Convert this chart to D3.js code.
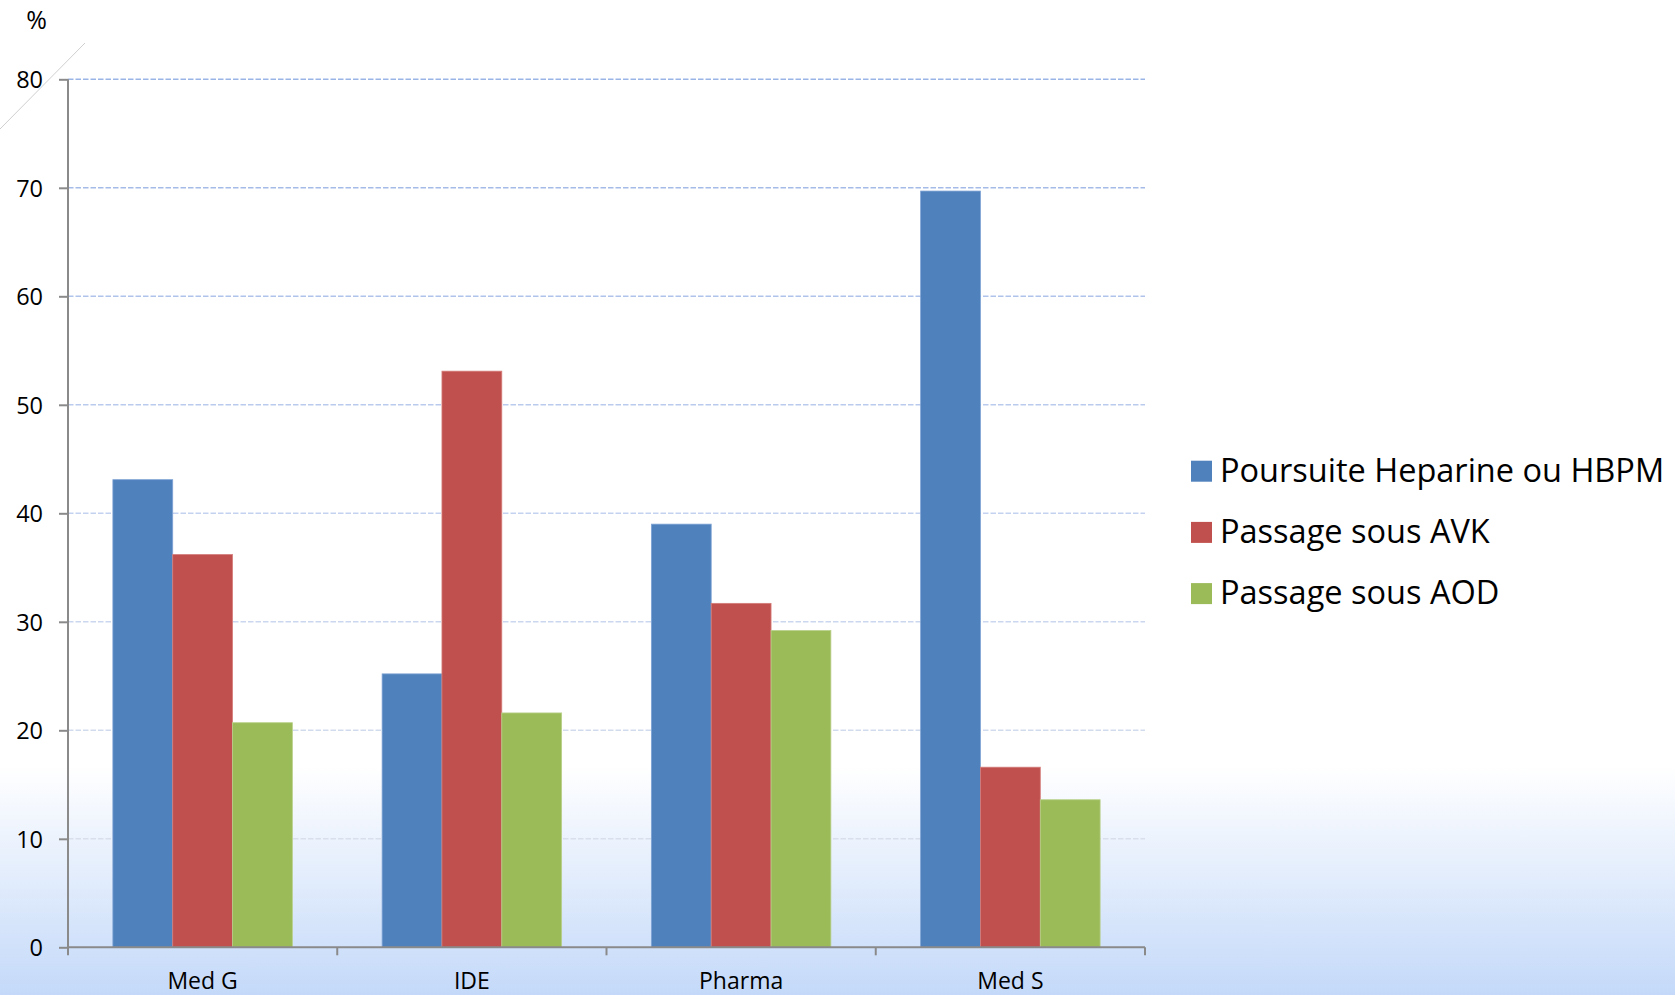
<!DOCTYPE html>
<html>
<head>
<meta charset="utf-8">
<script src="https://cdn.jsdelivr.net/npm/d3@7"></script>
<style>
  html, body { margin: 0; padding: 0; background: #fff; }
  svg { display: block; font-family: "Open Sans", "Noto Sans", sans-serif; }
</style>
</head>
<body>
<svg id="chart" width="1675" height="995"></svg>
<script>
// Categories and series
const categories = ["Med G", "IDE", "Pharma", "Med S"];
const seriesNames = ["Poursuite Heparine ou HBPM", "Passage sous AVK", "Passage sous AOD"];
const heparine = [43.1, 25.2, 39.0, 69.7];
const avk = [36.2, 53.1, 31.7, 16.6];
const aod = [20.7, 21.6, 29.2, 13.6];
const yTicks = [0, 10, 20, 30, 40, 50, 60, 70, 80];
const colors = ["#4f81bd", "#c0504d", "#9bbb59"];
const strokeColors = ["#7ea3d4", "#d47d7a", "#b9d08a"];

const seriesValues = [heparine, avk, aod];
const rows = categories.map((c, i) => ({
  cat: c,
  vals: seriesNames.map((s, j) => ({ key: s, idx: j, value: seriesValues[j][i] }))
}));

const W = 1675, H = 995;
const plotLeft = 68, plotRight = 1145, plotTop = 79.3, plotBottom = 947.3;

const svg = d3.select("#chart");
const defs = svg.append("defs");

// page background: white fading into light blue near the bottom
const bg = defs.append("linearGradient").attr("id", "bg")
  .attr("x1", 0).attr("y1", 0).attr("x2", 0).attr("y2", 1);
bg.append("stop").attr("offset", "0%").attr("stop-color", "#ffffff");
bg.append("stop").attr("offset", "77%").attr("stop-color", "#ffffff");
bg.append("stop").attr("offset", "100%").attr("stop-color", "#c4d9f9");
svg.append("rect").attr("width", W).attr("height", H).attr("fill", "url(#bg)");

// gridline colour fades from blue at the top to grey at the bottom
const gg = defs.append("linearGradient").attr("id", "gridGrad")
  .attr("gradientUnits", "userSpaceOnUse")
  .attr("x1", 0).attr("y1", plotTop).attr("x2", 0).attr("y2", plotBottom);
gg.append("stop").attr("offset", "0%").attr("stop-color", "#9ab4e6");
gg.append("stop").attr("offset", "50%").attr("stop-color", "#c4d2f0");
gg.append("stop").attr("offset", "100%").attr("stop-color", "#dfe4ec");

const x0 = d3.scaleBand().domain(categories).range([plotLeft, plotRight]).paddingInner(0).paddingOuter(0);
const x1 = d3.scaleBand().domain(seriesNames).range([0, x0.bandwidth()]).paddingInner(0).paddingOuter(0.75);
const y = d3.scaleLinear().domain([0, 80]).range([plotBottom, plotTop]);

// decorative diagonal stroke at the top-left corner
svg.append("line")
  .attr("x1", 0).attr("y1", 129).attr("x2", 85).attr("y2", 43)
  .attr("stroke", "#cfcfcf").attr("stroke-width", 1);

// gridlines
svg.append("g").selectAll("line")
  .data(yTicks.filter(d => d > 0))
  .join("line")
  .attr("x1", plotLeft).attr("x2", plotRight)
  .attr("y1", d => y(d)).attr("y2", d => y(d))
  .attr("stroke", "url(#gridGrad)")
  .attr("stroke-width", 1.6)
  .attr("stroke-dasharray", "5.5,2");

// bars
const groups = svg.append("g").selectAll("g")
  .data(rows).join("g")
  .attr("transform", d => `translate(${x0(d.cat)},0)`);
groups.selectAll("rect")
  .data(d => d.vals).join("rect")
  .attr("x", d => x1(d.key))
  .attr("width", x1.bandwidth())
  .attr("y", d => y(d.value))
  .attr("height", d => y(0) - y(d.value))
  .attr("fill", d => colors[d.idx])
  .attr("stroke", d => strokeColors[d.idx])
  .attr("stroke-width", 0.8);

// y axis
const yAxis = svg.append("g")
  .attr("transform", `translate(${plotLeft},0)`)
  .call(d3.axisLeft(y).tickValues(yTicks).tickSize(9).tickPadding(16).tickFormat(d3.format("d")));
yAxis.select(".domain").attr("stroke", "#8a8a8a").attr("stroke-width", 2)
  .attr("d", `M0,${plotTop}V${plotBottom}`);
yAxis.selectAll(".tick line").attr("stroke", "#8a8a8a").attr("stroke-width", 2);
yAxis.selectAll(".tick text")
  .attr("font-family", "Open Sans").attr("font-size", 23.5).attr("fill", "#000")
  .attr("dy", "0.36em");

// x axis: category labels centred under each group, ticks at group boundaries
const xAxis = svg.append("g")
  .attr("transform", `translate(0,${plotBottom})`)
  .call(d3.axisBottom(x0).tickSize(0).tickPadding(0));
xAxis.select(".domain").attr("stroke", "#8a8a8a").attr("stroke-width", 2)
  .attr("d", `M${plotLeft},0H${plotRight}`);
xAxis.selectAll(".tick text")
  .attr("font-family", "Open Sans").attr("font-size", 23).attr("fill", "#000")
  .attr("y", 42).attr("dy", 0);

const boundaries = categories.map(c => x0(c)).concat([x0(categories[categories.length - 1]) + x0.bandwidth()]);
svg.append("g").selectAll("line")
  .data(boundaries).join("line")
  .attr("x1", d => d).attr("x2", d => d)
  .attr("y1", plotBottom).attr("y2", plotBottom + 8)
  .attr("stroke", "#8a8a8a").attr("stroke-width", 2);

// unit label
svg.append("text")
  .attr("x", 36.5).attr("y", 29)
  .attr("text-anchor", "middle")
  .attr("font-size", 25).attr("fill", "#000")
  .text("%");

// legend
const legend = svg.append("g").attr("transform", "translate(1191,0)");
const legendBase = [481.7, 542.9, 604.1];
const li = legend.selectAll("g").data(seriesNames).join("g")
  .attr("transform", (d, i) => `translate(0,${legendBase[i]})`);
li.append("rect")
  .attr("x", 0).attr("y", -21).attr("width", 21).attr("height", 21)
  .attr("fill", (d, i) => colors[i]);
li.append("text")
  .attr("x", 29).attr("y", 0)
  .attr("font-size", 32.5).attr("fill", "#000")
  .text(d => d);
</script>
</body>
</html>
